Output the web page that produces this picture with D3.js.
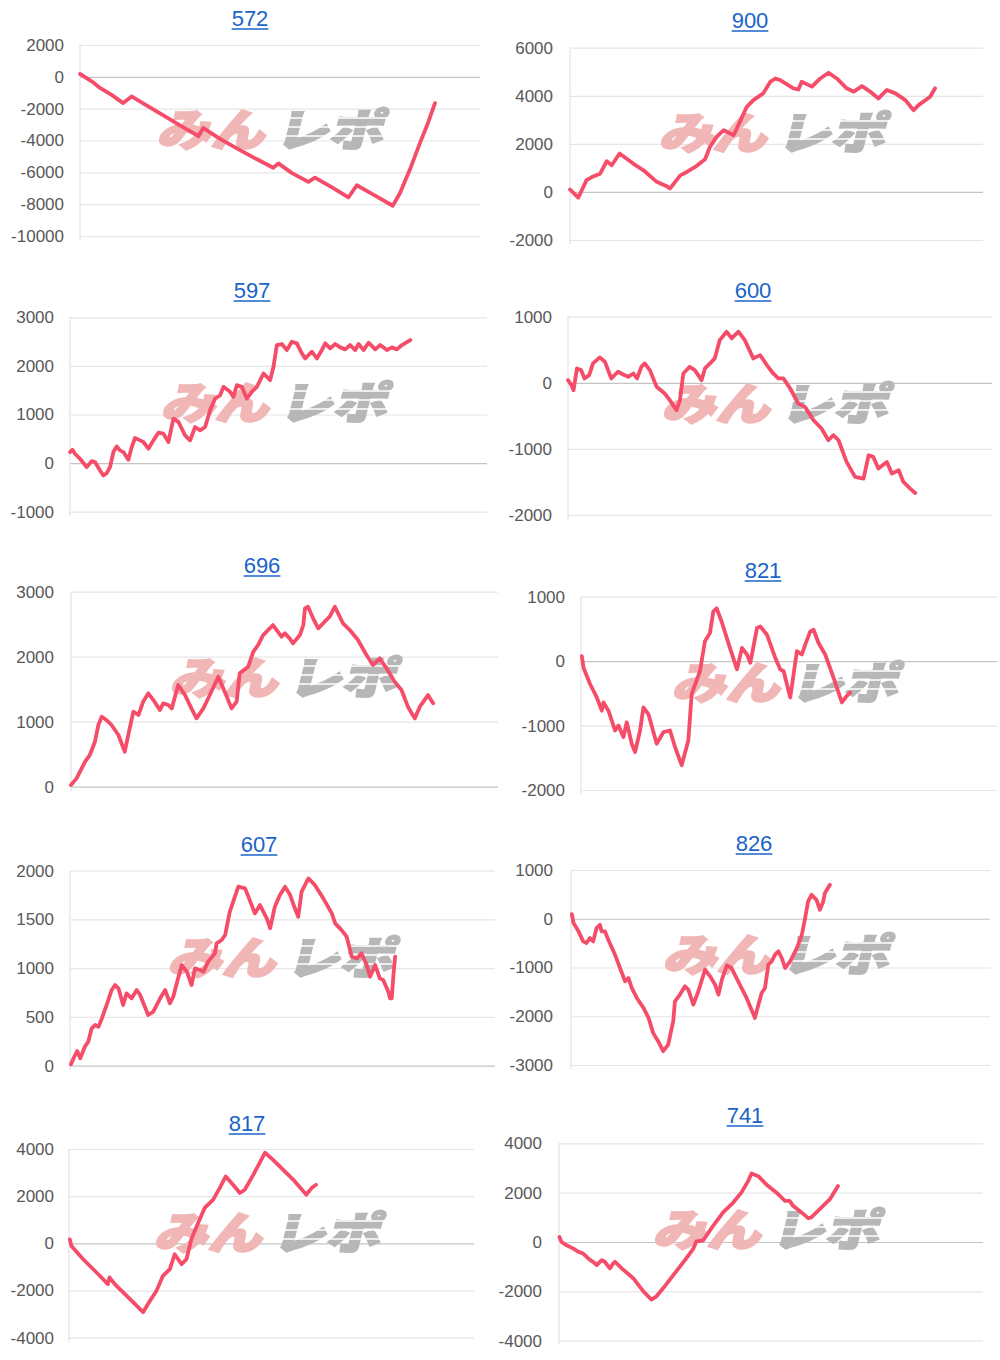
<!DOCTYPE html>
<html><head><meta charset="utf-8">
<script src="https://cdn.jsdelivr.net/npm/d3@7"></script>
<style>
html,body{margin:0;padding:0;background:#fff;}
svg{display:block;}
</style></head>
<body>
<svg id="c" width="1000" height="1360"></svg>
<script>
// ---------- DATA ----------
const titles = ["572","900","597","600","696","821","607","826","817","741"];

const t572 = [2000,0,-2000,-4000,-6000,-8000,-10000];
const t900 = [6000,4000,2000,0,-2000];
const t597 = [3000,2000,1000,0,-1000];
const t600 = [1000,0,-1000,-2000];
const t696 = [3000,2000,1000,0];
const t821 = [1000,0,-1000,-2000];
const t607 = [2000,1500,1000,500,0];
const t826 = [1000,0,-1000,-2000,-3000];
const t817 = [4000,2000,0,-2000,-4000];
const t741 = [4000,2000,0,-2000,-4000];

// [game (% of axis), diff]
const s572 = [[0,180],[3,-300],[5,-700],[8,-1150],[10.8,-1650],[12.9,-1230],[16,-1700],[20,-2300],[25,-3050],[29.6,-3730],[30.8,-3210],[35,-3900],[40,-4600],[44,-5150],[48.3,-5710],[49.6,-5440],[53,-6050],[57.1,-6600],[58.75,-6330],[63,-6950],[67.1,-7580],[69.2,-6810],[73,-7350],[78.2,-8100],[80,-7300],[82.5,-5810],[85,-4150],[87,-2900],[88.75,-1650]];
const s900 = [[0,100],[2,-240],[4,490],[5.3,620],[7.3,760],[8.9,1280],[10.1,1110],[12,1600],[15.3,1180],[17.8,900],[21,420],[23.4,240],[24.2,140],[26.7,690],[28.3,830],[30.3,1040],[31.9,1250],[32.7,1360],[33.9,1880],[35.5,2290],[37.2,2570],[38.8,2430],[39.6,2360],[40.4,2640],[42.8,3540],[44.4,3820],[46.8,4100],[48.5,4580],[49.7,4720],[50.9,4650],[54.1,4310],[55.3,4260],[56.1,4580],[58.6,4380],[60.6,4720],[62.6,4960],[64.6,4720],[67,4310],[68.7,4170],[70.7,4400],[72.7,4170],[74.7,3890],[76.7,4240],[78.8,4100],[81.2,3820],[83.2,3400],[84.4,3610],[87.2,3960],[88.4,4310]];
const s597 = [[0,227],[0.6,275],[1.2,193],[2.4,89],[4,-83],[5.2,41],[6,21],[7.2,-151],[8,-255],[8.8,-206],[9.6,-83],[10.4,227],[11.2,344],[12,262],[12.8,227],[14,69],[14.8,330],[15.6,516],[16.8,468],[17.6,434],[18.8,296],[20,468],[21.2,626],[22.4,606],[23.6,434],[24.8,915],[26,847],[27.6,571],[28.8,468],[30,743],[31.2,675],[32.4,743],[33.6,1087],[34.8,1328],[36,1397],[36.8,1569],[38.4,1466],[39.2,1363],[40,1604],[41.2,1569],[42.4,1328],[43.6,1466],[44.8,1569],[46.4,1844],[48,1707],[48.8,1982],[49.6,2429],[50.8,2450],[52,2326],[53.2,2498],[54.4,2464],[55.6,2257],[56.4,2154],[58,2292],[59.2,2154],[60.4,2326],[61.2,2464],[62.4,2361],[63.6,2450],[64.8,2381],[66,2340],[67.2,2429],[68.4,2326],[69.2,2450],[70.4,2326],[71.6,2477],[73.2,2340],[74.4,2429],[76,2326],[77.2,2381],[78.4,2340],[79.6,2429],[81.6,2532]];
const s600 = [[0,40],[0.8,-35],[1.3,-111],[2.1,217],[3.1,192],[3.9,66],[5,116],[5.9,293],[7.5,384],[8.7,318],[10.2,66],[11.8,167],[13,126],[14.2,91],[15.4,141],[16.3,66],[17.3,242],[18.1,293],[19.3,192],[20.9,-61],[22.8,-162],[24,-263],[25.6,-414],[26.4,-263],[27.2,141],[28.7,242],[29.9,192],[31.5,40],[32.3,217],[33.5,293],[34.6,369],[35.8,646],[37.4,773],[38.6,672],[40.2,773],[41.7,646],[43.7,369],[45.3,419],[46.9,268],[48.4,141],[49.6,66],[50.8,66],[52.4,-86],[54.3,-313],[55.9,-364],[57.9,-566],[59.8,-692],[61.4,-869],[62.6,-793],[63.8,-869],[65.7,-1197],[67.7,-1424],[69.7,-1449],[70.9,-1096],[72,-1121],[73.2,-1298],[75.2,-1197],[76.4,-1374],[78,-1323],[79.1,-1500],[80.7,-1601],[81.9,-1667]];
const s696 = [[0,26],[1.3,128],[2.5,282],[3.3,385],[4.4,487],[5.6,692],[6.4,949],[7.2,1077],[8.3,1026],[9.5,949],[11.1,795],[12.6,538],[13.4,795],[14.6,1154],[15.8,1103],[16.9,1308],[18.1,1436],[19.3,1333],[20.8,1179],[21.6,1282],[22.8,1256],[23.6,1205],[25.1,1564],[26.7,1410],[28.2,1205],[29.4,1051],[31,1205],[32.5,1410],[34.5,1692],[36,1462],[37.6,1205],[38.8,1308],[39.5,1744],[41.5,1846],[42.7,2077],[43.8,2179],[45,2333],[47.3,2487],[49.3,2308],[50.1,2359],[51.2,2282],[52,2205],[53.6,2333],[54.4,2487],[54.8,2744],[55.5,2769],[56.7,2590],[57.9,2436],[59.4,2538],[60.6,2615],[61.8,2769],[63.7,2513],[65.3,2410],[67.2,2256],[69.2,2026],[70.7,1872],[72.3,1974],[73.9,1821],[75.8,1615],[77.4,1487],[78.9,1231],[80.5,1051],[81.7,1231],[83.6,1410],[84.8,1282]];
const s821 = [[0.2,77],[0.6,-103],[2.2,-359],[3.8,-564],[5,-769],[5.4,-641],[6.6,-769],[8.2,-1077],[9,-1000],[10.2,-1179],[11,-949],[12.2,-1282],[13,-1410],[14.2,-1077],[15,-718],[16.2,-821],[18.2,-1282],[19.8,-1103],[21.4,-1077],[22.6,-1333],[24.2,-1615],[25.8,-1231],[26.6,-513],[28.6,-154],[29.8,308],[31,436],[31.8,769],[32.6,821],[33.8,615],[35.8,205],[37.5,-128],[38.7,205],[39.9,103],[40.7,-26],[42.3,513],[43.1,538],[44.7,410],[46.7,51],[47.9,-128],[48.7,-154],[50.3,-564],[51.9,154],[53.1,103],[53.9,256],[55.1,462],[55.9,487],[57.1,282],[58.7,103],[60.7,-256],[62.7,-641],[63.9,-538],[64.7,-487]];
const s607 = [[0.2,14],[1.2,109],[1.7,150],[2.4,75],[3.5,195],[4.3,246],[5.1,383],[5.9,417],[6.7,400],[7.5,485],[8.6,622],[9.8,776],[10.6,827],[11.4,793],[12.5,622],[13.3,742],[14.5,691],[15.7,776],[16.5,725],[18.4,520],[19.6,554],[21.2,691],[22.4,776],[23.5,639],[24.3,708],[25.1,844],[26.3,1032],[27.5,964],[28.6,827],[29.4,998],[30.6,981],[31.4,964],[32.5,1067],[34.1,1152],[34.5,1255],[35.7,1289],[36.5,1340],[37.6,1579],[38.4,1682],[39.6,1836],[41.2,1819],[43.5,1562],[44.7,1647],[46.3,1511],[47.1,1409],[48.2,1631],[49.4,1750],[50.6,1836],[51.8,1750],[52.9,1614],[53.7,1528],[54.5,1785],[56.1,1921],[57.6,1853],[59.6,1716],[61.6,1562],[62.4,1460],[63.9,1391],[65.1,1323],[66.3,1118],[67.5,1101],[68.6,1152],[69.8,1032],[70.6,913],[71.8,1032],[72.9,896],[73.7,879],[74.9,759],[75.3,691],[75.7,691],[76.1,930],[76.5,1118]];
const s826 = [[0.2,96],[0.6,-89],[1.8,-259],[2.9,-464],[3.7,-498],[4.5,-396],[5.3,-464],[6.1,-191],[6.9,-123],[7.3,-259],[8.1,-259],[8.9,-430],[10.5,-737],[11.7,-1010],[12.9,-1283],[13.7,-1215],[14.5,-1420],[15.7,-1625],[17.3,-1829],[18.5,-2034],[19.6,-2341],[20.8,-2512],[22,-2717],[23.2,-2580],[24.4,-2102],[24.8,-1693],[26,-1556],[27.2,-1386],[28,-1454],[29.2,-1761],[30.4,-1488],[32,-1044],[33.2,-1181],[34.4,-1352],[35.2,-1556],[36,-1249],[37.2,-956],[38.3,-1010],[39.9,-1283],[41.9,-1625],[43.9,-2034],[44.3,-1898],[45.5,-1522],[46.3,-1420],[47.1,-942],[47.9,-874],[48.7,-737],[49.5,-669],[50.3,-805],[51.1,-1010],[52.3,-874],[53.9,-601],[55.1,-328],[55.8,-20],[56.6,355],[57.4,491],[58.6,389],[59.4,184],[60.2,355],[60.6,526],[61.8,696]];
const s817 = [[0.2,168],[0.6,-112],[3.5,-674],[6.8,-1235],[9.6,-1726],[10,-1446],[11.3,-1726],[15,-2358],[18.3,-2919],[19.5,-2568],[21.6,-2007],[23.2,-1375],[24.9,-1095],[26.1,-463],[27.8,-884],[29,-674],[30.2,168],[31.9,870],[33.5,1502],[35.6,1853],[37.2,2344],[38.7,2835],[40.5,2484],[42.2,2133],[43.4,2274],[45.5,2905],[48.4,3846],[50.4,3537],[52.9,3116],[55.4,2695],[58.6,2063],[59.9,2344],[61,2484]];
const s741 = [[0.1,200],[0.6,0],[1.8,-133],[3.4,-267],[4.6,-400],[5.7,-467],[6.9,-667],[8.5,-867],[8.9,-933],[9.7,-800],[10.1,-733],[10.8,-800],[12,-1067],[12.8,-867],[13.2,-800],[14.8,-1067],[17.5,-1467],[19.9,-2000],[21.8,-2333],[23,-2200],[24.6,-1867],[27,-1333],[29.7,-733],[31.7,-267],[32.4,27],[34,67],[36.4,667],[38.7,1200],[41.1,1600],[43,2000],[44.6,2467],[45.4,2773],[47,2667],[48.9,2333],[51.3,2000],[53.3,1667],[54.4,1667],[55.2,1467],[57.2,1200],[58.8,960],[59.5,1000],[61.5,1333],[63.9,1733],[65.8,2267]];

const seriesList = [s572,s900,s597,s600,s696,s821,s607,s826,s817,s741];
const tickList = [t572,t900,t597,t600,t696,t821,t607,t826,t817,t741];

// ---------- LAYOUT (pixel boxes for each screenshot panel) ----------
const layout = [
  {tx:250,ty:26, l:80, r:480, top:45,   bot:236,   lx:64,  wx:273, wy:128},
  {tx:750,ty:28, l:570,r:983, top:47.7, bot:240,   lx:553, wx:775, wy:131},
  {tx:252,ty:298,l:70, r:487, top:317.3,bot:511.7, lx:54,  wx:277, wy:401},
  {tx:753,ty:298,l:568,r:992, top:316.7,bot:515,   lx:552, wx:778, wy:402},
  {tx:262,ty:573,l:71, r:498, top:591.7,bot:786.7, lx:54,  wx:286, wy:676},
  {tx:763,ty:578,l:581,r:997, top:596.7,bot:790,   lx:565, wx:788, wy:681},
  {tx:259,ty:852,l:70, r:495, top:870.7,bot:1065.7,lx:54,  wx:284, wy:956},
  {tx:754,ty:851,l:571,r:990, top:870,  bot:1065,  lx:553, wx:779, wy:953},
  {tx:247,ty:1131,l:69,r:474, top:1149, bot:1337.7,lx:54,  wx:270, wy:1231},
  {tx:745,ty:1123,l:559,r:983,top:1143.3,bot:1340.7,lx:542,wx:769, wy:1228}
];

const svg = d3.select("#c");
const FONT = "'Liberation Sans', Arial, Helvetica, sans-serif";

layout.forEach((L, i) => {
  const ticks = tickList[i];
  const data = seriesList[i];
  const y = d3.scaleLinear().domain([d3.min(ticks), d3.max(ticks)]).range([L.bot, L.top]);
  const x = d3.scaleLinear().domain([0, 100]).range([L.l, L.r]);
  const g = svg.append("g");

  // title with underline
  const t = g.append("text").attr("x", L.tx).attr("y", L.ty)
    .attr("text-anchor", "middle").attr("font-family", FONT)
    .attr("font-size", 22).attr("fill", "#1b64c8").text(titles[i]);
  const tw = t.node().getComputedTextLength();
  g.append("line").attr("x1", L.tx - tw/2).attr("x2", L.tx + tw/2)
    .attr("y1", L.ty + 3).attr("y2", L.ty + 3)
    .attr("stroke", "#1b64c8").attr("stroke-width", 1.5);

  // y axis + gridlines
  const ax = g.append("g").attr("transform", `translate(${L.l},0)`)
    .call(d3.axisLeft(y).tickValues(ticks).tickSize(-(L.r - L.l))
      .tickPadding(L.l - L.lx).tickFormat(d => String(d)));
  ax.select(".domain").remove();
  ax.selectAll(".tick line").attr("stroke", d => d === 0 ? "#c4c4c4" : "#e6e6e6").attr("stroke-width", 1.2);
  ax.selectAll(".tick text").attr("font-family", FONT).attr("font-size", 17).attr("fill", "#585858");
  g.append("line").attr("x1", L.l).attr("x2", L.l).attr("y1", L.top).attr("y2", L.bot + 4)
    .attr("stroke", "#e3e3e3").attr("stroke-width", 1.2);

  // watermark
  const wm = g.append("g").attr("transform", `translate(${L.wx},${L.wy}) skewX(-14)`);
  wm.append("text").attr("x", -112).attr("y", 18).attr("font-family", "'Noto Sans CJK JP', sans-serif")
    .attr("font-weight", 900).attr("font-size", 44).attr("fill", "#f1b6b6")
    .attr("stroke", "#f1b6b6").attr("stroke-width", 2.2)
    .attr("textLength", 108).attr("lengthAdjust", "spacingAndGlyphs").text("みん");
  wm.append("text").attr("x", 6).attr("y", 18).attr("font-family", "'Noto Sans CJK JP', sans-serif")
    .attr("font-weight", 900).attr("font-size", 44).attr("fill", "#b7b7b7")
    .attr("stroke", "#b7b7b7").attr("stroke-width", 2.2)
    .attr("textLength", 108).attr("lengthAdjust", "spacingAndGlyphs").text("レポ");
  [-10, -1, 8].forEach(dy => {
    wm.append("line").attr("x1", 0).attr("x2", 124).attr("y1", dy).attr("y2", dy)
      .attr("stroke", "#fff").attr("stroke-width", 1.6);
  });

  // series line
  const line = d3.line().x(d => x(d[0])).y(d => y(d[1]));
  g.append("path").datum(data).attr("d", line).attr("fill", "none")
    .attr("stroke", "#f54d69").attr("stroke-width", 3.8)
    .attr("stroke-linejoin", "round").attr("stroke-linecap", "round");
});
</script>
</body></html>
